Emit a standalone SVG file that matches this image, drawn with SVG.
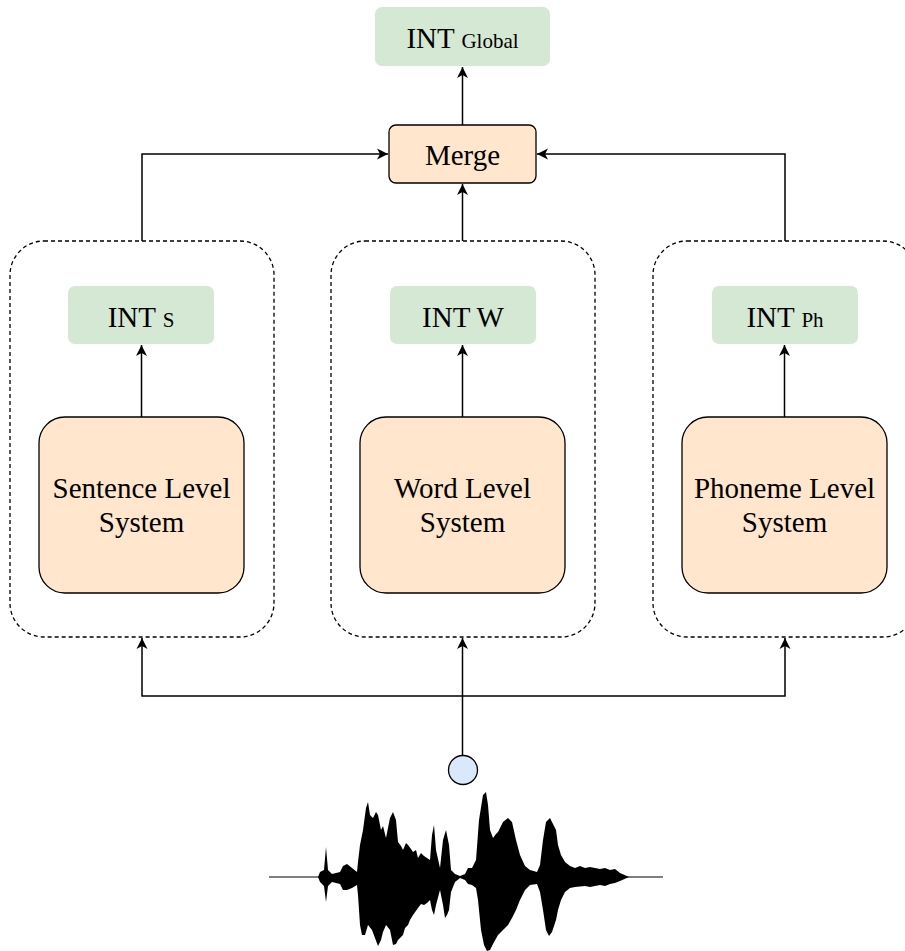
<svg xmlns="http://www.w3.org/2000/svg" width="905" height="951" viewBox="0 0 905 951">
<style>
text{font-family:"Liberation Serif","Times New Roman",serif;font-size:29px;fill:#000;text-anchor:middle}
.sub{font-size:21px}
.int{fill:#d5e8d4;stroke:none}
.org{fill:#ffe6cc;stroke:#000;stroke-width:1.3}
.grp{fill:none;stroke:#000;stroke-width:1.3;stroke-dasharray:4 3}
.conn{fill:none;stroke:#000;stroke-width:1.5;marker-end:url(#ah)}
</style>
<defs>
<marker id="ah" viewBox="0 0 12 12" refX="11" refY="6" markerWidth="12" markerHeight="12" markerUnits="userSpaceOnUse" orient="auto">
<path d="M0,0.5 L11,6 L0,11.5 L3,6 Z" fill="#000"/>
</marker>
</defs>
<rect width="905" height="951" fill="#fff"/>
<g id="grp-sentence"><rect class="grp" x="10" y="241" width="264" height="396" rx="34"/></g>
<g id="grp-word"><rect class="grp" x="331" y="241" width="264" height="396" rx="34"/></g>
<g id="grp-phoneme"><rect class="grp" x="653" y="241" width="264" height="396" rx="34"/></g>
<g id="connectors">
<path class="conn" d="M462.5,125 V67"/>
<path class="conn" d="M142,241 V154 H388"/>
<path class="conn" d="M785,241 V154 H537"/>
<path class="conn" d="M462.5,241 V184"/>
<path class="conn" d="M141.5,417 V345"/>
<path class="conn" d="M462.5,417 V345"/>
<path class="conn" d="M784.5,417 V345"/>
<path class="conn" d="M462.5,696 H142 V638"/>
<path class="conn" d="M462.5,696 H785 V638"/>
<path class="conn" d="M462.5,755 V638"/>
</g>
<g id="int-global"><rect class="int" x="375" y="7" width="175" height="59" rx="7"/><text x="462.5" y="48">INT <tspan class="sub">Global</tspan></text></g>
<g id="merge"><rect class="org" x="389" y="125" width="147" height="58" rx="7"/><text x="462.5" y="165">Merge</text></g>
<g id="int-s"><rect class="int" x="68" y="286" width="146" height="58" rx="7"/><text x="141" y="327">INT <tspan class="sub">S</tspan></text></g>
<g id="int-w"><rect class="int" x="390" y="286" width="146" height="58" rx="7"/><text x="463" y="327">INT W</text></g>
<g id="int-ph"><rect class="int" x="712" y="286" width="146" height="58" rx="7"/><text x="785" y="327">INT <tspan class="sub">Ph</tspan></text></g>
<g id="sentence"><rect class="org" x="39" y="417" width="205" height="176" rx="26"/><text x="141.5" y="498">Sentence Level</text><text x="141.5" y="532">System</text></g>
<g id="word"><rect class="org" x="360" y="417" width="205" height="176" rx="26"/><text x="462.5" y="498">Word Level</text><text x="462.5" y="532">System</text></g>
<g id="phoneme"><rect class="org" x="682" y="417" width="205" height="176" rx="26"/><text x="784.5" y="498">Phoneme Level</text><text x="784.5" y="532">System</text></g>
<g id="input"><circle cx="463" cy="770" r="14.5" fill="#dae8fc" stroke="#000" stroke-width="1.3"/></g>
<g id="waveform">
<line x1="269" y1="877" x2="663" y2="877" stroke="#555" stroke-width="1.5"/>
<path fill="#000" d="M318,877 L320,872 324,870 326,847 328,870 332,874 340,872 343,866 347,864 352,868 357,872 358,862 360,845 363,830 366,808 368,802 370,815 373,818 376,812 378,815 381,830 383,826 386,838 390,818 393,812 396,820 398,842 401,846 403,850 406,843 408,845 411,849 413,852 416,850 418,858 421,853 424,856 427,858 430,860 432,835 434,825 436,850 440,868 443,840 446,830 449,845 451,870 455,874 460,876 465,874 468,868 472,868 476,860 479,820 483,795 486,792 488,805 490,830 493,838 496,834 498,832 503,822 508,818 512,822 516,840 520,855 525,866 530,870 537,872 540,865 543,840 546,822 550,818 553,824 556,830 558,845 561,855 565,862 570,866 575,868 580,866 585,868 590,867 600,869 605,868 610,870 615,869 620,873 629,877 620,881 615,883 610,884 605,886 600,885 590,887 585,886 575,887 570,888 565,892 561,900 558,910 556,920 552,932 549,936 546,930 543,910 540,892 537,884 530,885 525,890 520,900 516,910 512,918 508,925 503,930 498,935 493,944 490,950 487,951 484,945 481,930 478,900 476,888 472,885 468,884 465,880 460,878 455,882 451,892 449,910 447,915 445,918 443,905 440,890 436,905 434,915 432,910 430,900 427,903 424,905 421,904 418,908 413,915 410,920 408,925 405,928 403,935 398,940 396,944 393,945 390,930 386,925 383,932 381,940 378,946 375,938 372,930 368,925 365,935 362,935 360,925 358,895 357,885 352,888 347,890 343,890 340,884 332,882 328,886 326,902 324,886 320,882 Z"/>
</g>
</svg>
